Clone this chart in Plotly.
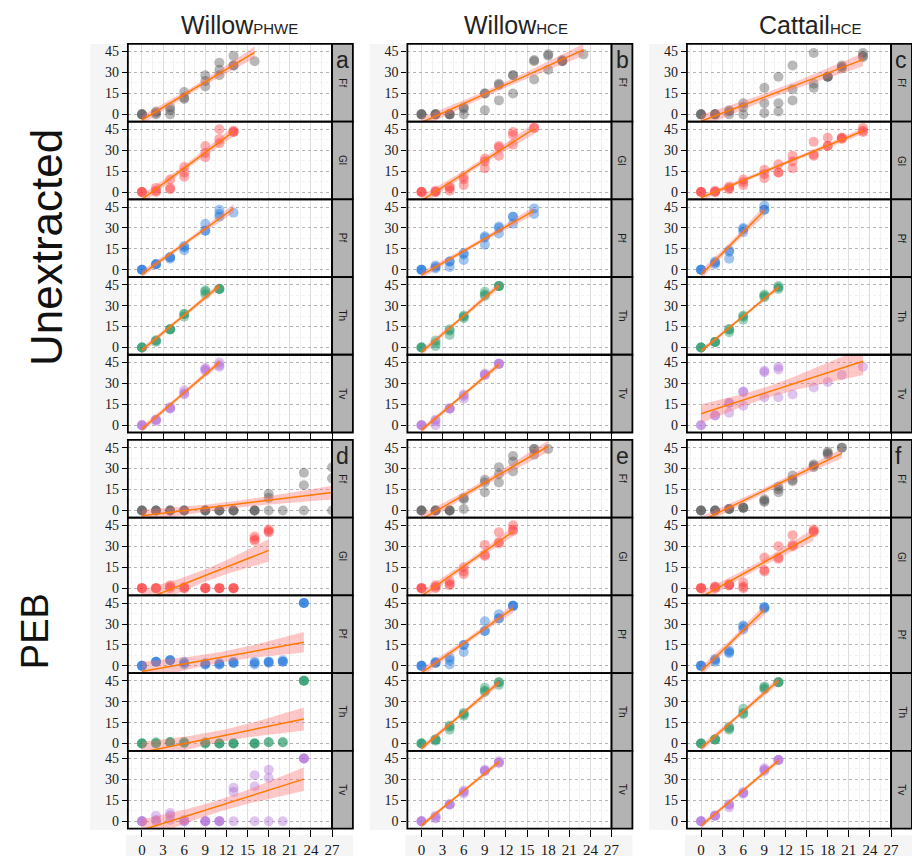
import numpy as np
import plotly.graph_objects as go

# ---------------- data ----------------
DAYS = [0, 2, 4, 6, 9, 11, 13, 16, 18, 20, 23, 27]
X_TICKS = [0, 3, 6, 9, 12, 15, 18, 21, 24, 27]
Y_TICKS = [0, 15, 30, 45]
SPECIES = ["Ff", "Gl", "Pf", "Th", "Tv"]
TREATMENTS = ["Unextracted", "PEB"]
PANEL_LETTERS = [["a", "b", "c"], ["d", "e", "f"]]

# each list: replicate values for consecutive DAYS (0, 2, 4, ...)
PHWE_UNEXT_FF = [[0, 0, 0], [0, 1, 2], [5, 3, 0], [16, 11, 12], [28, 24, 20], [37, 32, 28], [42, 35, 35], [38]]
PHWE_UNEXT_GL = [[0, 0, 0], [0, 3, 1], [9, 2, 3], [18, 11, 14], [33, 28, 25], [45, 38, 35], [44, 43, 43]]
PHWE_UNEXT_PF = [[0, 0, 0], [4, 4, 4], [9, 9, 8], [17, 14, 16], [28, 33, 28], [43, 38, 40], [41]]
PHWE_UNEXT_TH = [[0, 0, 0], [5, 5, 4], [13, 13, 13], [24, 22, 24], [40, 38, 41], [42, 42, 42]]
PHWE_UNEXT_TV = [[0, 0, 0], [4, 4, 3], [13, 12, 12], [25, 22, 23], [41, 39, 40], [45, 42, 43]]

PHWE_PEB_FF = [[0, 0, 0], [0, 0, 0], [0, 0, 0], [0, 0, 0], [0, 0, 0], [0, 0, 0], [0, 0, 0], [0, 0, 0],
               [12, 9, 0], [0], [27, 18, 0], [31, 23, 0]]
PHWE_PEB_GL = [[0, 0, 0], [0, 0, 0], [2, 1, 0], [1, 0, 0], [0, 0, 0], [0, 0, 0], [0, 0, 0],
               [37, 34, 35], [42, 40, 41]]
PHWE_PEB_PF = [[0, 0, 0], [3, 3, 3], [4, 4, 4], [3, 1, 2], [2, 1, 1], [2, 1, 1], [3, 2, 2], [3, 1, 2],
               [3, 3, 2], [3, 3, 4], [45, 45, 45]]
PHWE_PEB_TH = [[0, 0, 0], [1, 0, 0], [1, 1, 1], [1, 1, 0], [0, 1, 0], [0, 0, 0], [0, 0, 0], [0, 0, 0],
               [1, 1], [1, 1], [45, 45, 45]]
PHWE_PEB_TV = [[0, 0, 0], [4, 1, 0], [6, 4, 1], [0, 0, 1], [0, 0, 0], [0, 0, 0], [24, 21, 0], [33, 25, 0],
               [37, 31, 0], [0], [45, 45, 45]]

WHCE_UNEXT_FF = [[0, 0, 0], [0, 0, 0], [0, 0, 0], [5, 4, 0], [15, 15, 3], [22, 21, 10], [28, 28, 15],
                 [39, 38, 25], [43, 42, 32], [39, 38, 38], [43]]
WHCE_UNEXT_GL = [[0, 0, 0], [1, 0, 0], [4, 3, 1], [11, 9, 5], [24, 22, 17], [33, 32, 26], [43, 41, 34], [46, 46]]
WHCE_UNEXT_PF = [[0, 0, 0], [3, 1, 2], [6, 6, 2], [12, 11, 7], [24, 23, 18], [31, 30, 26], [38, 38, 33], [44, 40]]
WHCE_UNEXT_TH = [[0, 0, 0], [5, 3, 1], [13, 12, 9], [22, 21, 23], [40, 37, 38], [44, 44, 44]]
WHCE_UNEXT_TV = [[0, 0, 0], [4, 0, 3], [12, 12, 12], [22, 19, 21], [37, 36, 36], [44, 44, 44]]

WHCE_PEB_FF = [[0, 0, 0], [0, 0, 0], [0, 0, 0], [9, 8, 1], [22, 20, 13], [31, 26, 20], [39, 35, 28],
               [44, 40, 44], [44]]
WHCE_PEB_GL = [[0, 0, 0], [1, 2, 0], [5, 3, 2], [15, 10, 12], [31, 24, 23], [40, 33, 32], [45, 41, 42]]
WHCE_PEB_PF = [[0, 0, 0], [2, 2, 3], [6, 4, 1], [15, 10, 15], [32, 25, 25], [37, 34, 34], [43, 43, 43]]
WHCE_PEB_TH = [[0, 0, 0], [3, 2, 3], [13, 10, 12], [22, 20, 21], [40, 37, 38], [44, 42, 44]]
WHCE_PEB_TV = [[0, 0, 0], [4, 2, 3], [12, 12, 12], [22, 20, 21], [36, 36, 37], [42, 42, 43]]

CHCE_UNEXT_FF = [[0, 0, 0], [0, 0, 0], [3, 2, 0], [8, 5, 0], [19, 8, 1], [27, 8, 2], [35, 18, 10],
                 [44, 22, 19], [27, 27, 27], [35, 33, 34], [44, 41, 42]]
CHCE_UNEXT_GL = [[0, 0, 0], [1, 0, 0], [4, 2, 3], [9, 5, 7], [16, 13, 10], [20, 14, 14], [26, 22, 17],
                 [36, 27, 26], [39, 33, 33], [39, 38, 39], [46, 43, 44]]
CHCE_UNEXT_PF = [[0, 0, 0], [6, 4, 5], [14, 8, 13], [30, 27, 29], [46, 43, 43]]
CHCE_UNEXT_TH = [[0, 0, 0], [4, 4, 4], [13, 11, 13], [23, 20, 22], [38, 36, 37], [44, 42, 43]]
CHCE_UNEXT_TV = [[0, 0], [7, 7], [16, 16, 9], [24, 24, 14], [39, 38, 20], [42, 40, 20], [22], [27], [31],
                 [36], [42]]

CHCE_PEB_FF = [[0, 0, 0], [0, 0, 0], [1, 1, 1], [2, 2, 2], [8, 6, 7], [17, 15, 13], [25, 21, 22],
               [33, 31, 32], [42, 40, 41], [45, 45]]
CHCE_PEB_GL = [[0, 0, 0], [1, 0, 1], [3, 2, 2], [4, 1, 0], [22, 13, 12], [30, 22, 21], [38, 31, 30], [42, 40, 41]]
CHCE_PEB_PF = [[0, 0, 0], [5, 3, 4], [11, 9, 10], [29, 26, 28], [42, 41, 42]]
CHCE_PEB_TH = [[0, 0, 0], [3, 3, 3], [12, 10, 11], [25, 22, 21], [41, 39, 40], [44, 44, 44]]
CHCE_PEB_TV = [[0, 0, 0], [4, 4, 4], [12, 10, 12], [21, 20, 20], [38, 37, 36], [44, 44, 44]]

PANEL_DATA = [
    [  # Unextracted
        [PHWE_UNEXT_FF, PHWE_UNEXT_GL, PHWE_UNEXT_PF, PHWE_UNEXT_TH, PHWE_UNEXT_TV],
        [WHCE_UNEXT_FF, WHCE_UNEXT_GL, WHCE_UNEXT_PF, WHCE_UNEXT_TH, WHCE_UNEXT_TV],
        [CHCE_UNEXT_FF, CHCE_UNEXT_GL, CHCE_UNEXT_PF, CHCE_UNEXT_TH, CHCE_UNEXT_TV],
    ],
    [  # PEB
        [PHWE_PEB_FF, PHWE_PEB_GL, PHWE_PEB_PF, PHWE_PEB_TH, PHWE_PEB_TV],
        [WHCE_PEB_FF, WHCE_PEB_GL, WHCE_PEB_PF, WHCE_PEB_TH, WHCE_PEB_TV],
        [CHCE_PEB_FF, CHCE_PEB_GL, CHCE_PEB_PF, CHCE_PEB_TH, CHCE_PEB_TV],
    ],
]

# ---------------- styling / geometry ----------------
W, H = 912, 858
COL_LEFT = [129, 411, 693]
PANEL_W = 206
STRIP_W = 21
GROUP_TOP = [44, 441]
ROW_H = 77.9
TITLE_X = [242, 521, 818]
POINT_RGB = {"Ff": (70, 70, 70), "Gl": (255, 45, 45), "Pf": (10, 105, 215),
             "Th": (10, 140, 85), "Tv": (170, 100, 215)}
X_RANGE = [-2, 27]
Y_RANGE = [-5.2, 50.5]
BORDER = 1.8


def px(x):
    return x / W


def py(y):
    return 1 - y / H


def t975(df):
    z = 1.959964
    return (z + (z ** 3 + z) / (4 * df) + (5 * z ** 5 + 16 * z ** 3 + 3 * z) / (96 * df ** 2)
            + (3 * z ** 7 + 19 * z ** 5 + 17 * z ** 3 - 15 * z) / (384 * df ** 3))


def lm_fit(xs, ys):
    x = np.asarray(xs, float)
    y = np.asarray(ys, float)
    n = len(x)
    xb, yb = x.mean(), y.mean()
    sxx = ((x - xb) ** 2).sum()
    b = ((x - xb) * (y - yb)).sum() / sxx
    a = yb - b * xb
    s = np.sqrt(((y - (a + b * x)) ** 2).sum() / (n - 2))
    xg = np.linspace(x.min(), x.max(), 80)
    yg = a + b * xg
    se = s * np.sqrt(1 / n + (xg - xb) ** 2 / sxx)
    t = t975(n - 2)
    return xg, yg, yg - t * se, yg + t * se


fig = go.Figure()
layout = dict(width=W, height=H, margin=dict(l=0, r=0, t=0, b=0), showlegend=False,
              paper_bgcolor="white", plot_bgcolor="white")
shapes = []
annotations = []

# faint label backgrounds
for c in range(3):
    shapes.append(dict(type="rect", xref="paper", yref="paper", layer="below",
                       x0=px(COL_LEFT[c] - 38), x1=px(COL_LEFT[c]), y0=py(832), y1=py(44),
                       fillcolor="#f5f5f5", line=dict(width=0)))
    shapes.append(dict(type="rect", xref="paper", yref="paper", layer="below",
                       x0=px(COL_LEFT[c] - 2), x1=px(COL_LEFT[c] + PANEL_W + STRIP_W), y0=py(858), y1=py(837),
                       fillcolor="#f5f5f5", line=dict(width=0)))

idx = 0
for g in range(2):
    for r in range(5):
        sp = SPECIES[r]
        top = GROUP_TOP[g] + r * ROW_H
        bot = top + ROW_H
        for c in range(3):
            idx += 1
            xa = "xaxis" if idx == 1 else f"xaxis{idx}"
            ya = "yaxis" if idx == 1 else f"yaxis{idx}"
            xr = "x" if idx == 1 else f"x{idx}"
            yr = "y" if idx == 1 else f"y{idx}"
            left = COL_LEFT[c]
            right = left + PANEL_W
            bottom_row = (r == 4)
            layout[xa] = dict(
                domain=[px(left), px(right)], anchor=yr, range=X_RANGE,
                tickvals=X_TICKS, showticklabels=(bottom_row and g == 1),
                ticks="outside" if bottom_row else "", ticklen=7, tickwidth=1.4, tickcolor="black",
                showline=False,
                showgrid=True, gridcolor="#dedede", gridwidth=0.8,
                minor=dict(dtick=1.5, tick0=0, showgrid=True, gridcolor="#f2f2f2", gridwidth=0.6, ticks=""),
                zeroline=False,
                tickfont=dict(family="Liberation Serif", size=15, color="#1a1a1a"),
            )
            layout[ya] = dict(
                domain=[py(bot), py(top)], anchor=xr, range=Y_RANGE,
                tickvals=Y_TICKS, ticks="outside", ticklen=5, tickwidth=1.4, tickcolor="black",
                showline=False,
                showgrid=True, gridcolor="#b4b4b4", gridwidth=0.8, griddash="dot",
                minor=dict(dtick=7.5, tick0=0, showgrid=True, gridcolor="#f2f2f2", gridwidth=0.6, ticks=""),
                zeroline=False,
                tickfont=dict(family="Liberation Serif", size=14, color="#1a1a1a"),
            )

            reps = PANEL_DATA[g][c][r]
            xs, ys = [], []
            for d, vals in zip(DAYS, reps):
                for v in vals:
                    xs.append(d)
                    ys.append(v)
            rr, gg, bb = POINT_RGB[sp]
            fig.add_trace(go.Scatter(
                x=xs, y=ys, mode="markers", xaxis=xr, yaxis=yr,
                marker=dict(size=10, color=f"rgba({rr},{gg},{bb},0.38)", line=dict(width=0)),
                hoverinfo="skip"))
            xg, yg, lo, hi = lm_fit(xs, ys)
            fig.add_trace(go.Scatter(
                x=np.concatenate([xg, xg[::-1]]), y=np.concatenate([hi, lo[::-1]]),
                mode="lines", fill="toself", fillcolor="rgba(255,110,110,0.38)",
                line=dict(width=0), xaxis=xr, yaxis=yr, hoverinfo="skip"))
            fig.add_trace(go.Scatter(
                x=xg, y=yg, mode="lines", line=dict(color="#ff7a00", width=1.5),
                xaxis=xr, yaxis=yr, hoverinfo="skip"))

            # panel border
            shapes.append(dict(type="rect", xref="paper", yref="paper", layer="above",
                               x0=px(left), x1=px(right), y0=py(bot), y1=py(top),
                               fillcolor="rgba(0,0,0,0)", line=dict(color="black", width=BORDER)))
            # strip
            shapes.append(dict(type="rect", xref="paper", yref="paper",
                               x0=px(right), x1=px(right + STRIP_W), y0=py(bot), y1=py(top),
                               fillcolor="#b3b3b3", line=dict(color="black", width=BORDER)))
            annotations.append(dict(xref="paper", yref="paper", x=px(right + STRIP_W / 2),
                                    y=py((top + bot) / 2), text=sp, showarrow=False, textangle=90,
                                    font=dict(family="Liberation Sans", size=10, color="#1a1a1a"),
                                    xanchor="center", yanchor="middle"))
            if r == 0:
                annotations.append(dict(xref="paper", yref="paper", x=px(right + 2), y=py(top + 1),
                                        text=PANEL_LETTERS[g][c], showarrow=False,
                                        font=dict(family="Liberation Sans", size=23, color="#222222"),
                                        xanchor="left", yanchor="top"))

# column titles
COL_MAIN = ["Willow", "Willow", "Cattail"]
COL_SUB = ["PHWE", "HCE", "HCE"]
for c in range(3):
    annotations.append(dict(xref="paper", yref="paper", x=px(TITLE_X[c]), y=py(25),
                            text=f"{COL_MAIN[c]}<span style='font-size:15px'>{COL_SUB[c]}</span>",
                            showarrow=False, xanchor="center", yanchor="middle",
                            font=dict(family="Liberation Sans", size=25, color="#222222")))

# row group labels
annotations.append(dict(xref="paper", yref="paper", x=px(47), y=py(248), text=TREATMENTS[0],
                        textangle=-90, showarrow=False, xanchor="center", yanchor="middle",
                        font=dict(family="Liberation Sans", size=44, color="#111111")))
annotations.append(dict(xref="paper", yref="paper", x=px(35), y=py(633), text=TREATMENTS[1],
                        textangle=-90, showarrow=False, xanchor="center", yanchor="middle",
                        font=dict(family="Liberation Sans", size=38, color="#111111")))

layout["shapes"] = shapes
layout["annotations"] = annotations
fig.update_layout(**layout)
fig.write_html("out.html")
